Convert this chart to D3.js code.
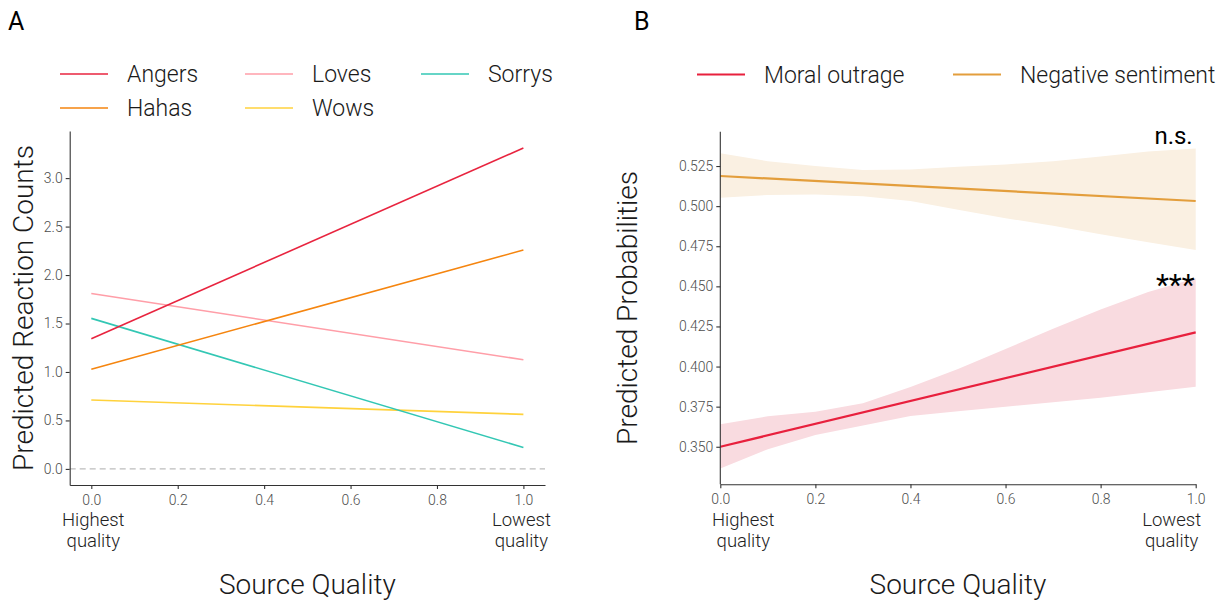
<!DOCTYPE html>
<html>
<head>
<meta charset="utf-8">
<script src="https://cdn.jsdelivr.net/npm/d3@7"></script>
<style>
  html, body { margin: 0; padding: 0; background: #fff; }
  svg { display: block; font-family: "Roboto Light", Roboto, "Noto Sans", sans-serif; font-weight: 300; }
</style>
</head>
<body>
<svg id="chart" width="1229" height="603"></svg>
<script>
// ---------- Data: panel A ----------
const reactionNames = ["Angers", "Hahas", "Loves", "Wows", "Sorrys"];
const reactionX = [0, 1];
const angersVals = [1.343, 3.31];
const hahasVals = [1.029, 2.258];
const lovesVals = [1.809, 1.126];
const wowsVals = [0.711, 0.563];
const sorrysVals = [1.553, 0.221];
const countTicks = [0, 0.5, 1.0, 1.5, 2.0, 2.5, 3.0];
const qualityTicks = [0, 0.2, 0.4, 0.6, 0.8, 1.0];

// ---------- Data: panel B ----------
const probNames = ["Moral outrage", "Negative sentiment"];
const bandX = [0, 0.1, 0.2, 0.3, 0.4, 0.5, 0.6, 0.7, 0.8, 0.9, 1.0];
const outrageLine = [0.350, 0.4213];
const outrageUpper = [0.3641, 0.369, 0.3718, 0.3772, 0.3872, 0.3985, 0.411, 0.4235, 0.4355, 0.4465, 0.455];
const outrageLower = [0.3365, 0.3485, 0.3573, 0.3633, 0.3692, 0.3722, 0.375, 0.3777, 0.3805, 0.384, 0.3874];
const negativeLine = [0.5188, 0.5032];
const negativeUpper = [0.533, 0.528, 0.525, 0.5225, 0.5228, 0.5245, 0.526, 0.528, 0.531, 0.534, 0.536];
const negativeLower = [0.5052, 0.507, 0.5073, 0.5062, 0.5032, 0.4978, 0.4925, 0.4878, 0.4825, 0.4775, 0.4726];
const probTicks = [0.350, 0.375, 0.400, 0.425, 0.450, 0.475, 0.500, 0.525];
const sigLabels = ["n.s.", "***"];

// ---------- Styles ----------
const reactionColors = {
  Angers: "#E8243F", Hahas: "#F5850F", Loves: "#FF9EA8", Wows: "#FFD23C", Sorrys: "#33C7B4"
};
const reactionValues = { Angers: angersVals, Hahas: hahasVals, Loves: lovesVals, Wows: wowsVals, Sorrys: sorrysVals };
const outrageColor = "#E8203D", outrageFill = "#F9DBE0";
const negativeColor = "#E39E3C", negativeFill = "#FAF0E2";
const axisColor = "#333333", tickText = "#4D4D4D";
const FONT = "'Roboto Light', Roboto, sans-serif";

const svg = d3.select("#chart");

function styleAxis(g) {
  g.select(".domain").attr("stroke", axisColor).attr("stroke-width", 1.1);
  g.selectAll(".tick line").attr("stroke", axisColor).attr("stroke-width", 1.1);
  g.selectAll(".tick text").attr("fill", tickText).attr("font-size", 14)
    .attr("font-family", FONT).attr("font-weight", 300);
}

// ================= Panel A =================
const xA = d3.scaleLinear().domain([-0.05, 1.05]).range([69.7, 545]);
const yA = d3.scaleLinear().domain([-0.166, 3.486]).range([485, 131]);

svg.append("line")
  .attr("x1", xA.range()[0]).attr("x2", xA.range()[1])
  .attr("y1", yA(0)).attr("y2", yA(0))
  .attr("stroke", "#BDBDBD").attr("stroke-width", 1.2).attr("stroke-dasharray", "6,4");

const lineA = d3.line().x((d, i) => xA(reactionX[i])).y(d => yA(d));
["Wows", "Sorrys", "Loves", "Hahas", "Angers"].forEach(name => {
  svg.append("path").datum(reactionValues[name])
    .attr("d", lineA).attr("fill", "none")
    .attr("stroke", reactionColors[name]).attr("stroke-width", 1.6);
});

const axAx = svg.append("g").attr("transform", `translate(0,${485})`)
  .call(d3.axisBottom(xA).tickValues(qualityTicks).tickFormat(d3.format(".1f")).tickSize(4).tickPadding(6).tickSizeOuter(0));
styleAxis(axAx);
const axAy = svg.append("g").attr("transform", `translate(${69.7},0)`)
  .call(d3.axisLeft(yA).tickValues(countTicks).tickFormat(d3.format(".1f")).tickSize(4).tickPadding(3).tickSizeOuter(0));
styleAxis(axAy);

// quality end labels
function endLabels(xLow, xHigh) {
  const g = svg.append("g").attr("font-size", 18.5).attr("fill", "#222").attr("text-anchor", "middle");
  [["Highest", 526], ["quality", 547]].forEach(([t, y]) => g.append("text").attr("x", xLow).attr("y", y).text(t));
  [["Lowest", 526], ["quality", 547]].forEach(([t, y]) => g.append("text").attr("x", xHigh).attr("y", y).text(t));
}
endLabels(xA(0) + 2, xA(1) - 2);

svg.append("text").attr("x", (xA.range()[0] + xA.range()[1]) / 2).attr("y", 594)
  .attr("text-anchor", "middle").attr("font-size", 28).attr("fill", "#1a1a1a").text("Source Quality");
svg.append("text").attr("transform", `translate(33,${(131 + 485) / 2}) rotate(-90)`)
  .attr("text-anchor", "middle").attr("font-size", 28).attr("fill", "#1a1a1a").text("Predicted Reaction Counts");

// legend A
const legendA = [
  { name: "Angers", col: 0, row: 0 }, { name: "Hahas", col: 0, row: 1 },
  { name: "Loves", col: 1, row: 0 }, { name: "Wows", col: 1, row: 1 },
  { name: "Sorrys", col: 2, row: 0 }
];
const legColX = [60, 245, 421], legRowY = [74, 108];
legendA.forEach(d => {
  const x0 = legColX[d.col], y0 = legRowY[d.row];
  svg.append("line").attr("x1", x0).attr("x2", x0 + 48).attr("y1", y0).attr("y2", y0)
    .attr("stroke", reactionColors[d.name]).attr("stroke-width", 1.6);
  svg.append("text").attr("x", x0 + 67).attr("y", y0 + 8).attr("font-size", 23).attr("fill", "#1a1a1a").text(d.name);
});

svg.append("text").attr("x", 8).attr("y", 30).attr("font-size", 25).attr("font-family", "Roboto, sans-serif").attr("font-weight", 400).attr("fill", "#000").text("A");

// ================= Panel B =================
const xB = d3.scaleLinear().domain([0, 1]).range([720.3, 1195.7]);
const yB = d3.scaleLinear().domain([0.3266, 0.5464]).range([484.3, 131.7]);

const area = (lo, hi) => d3.area().x((d, i) => xB(bandX[i])).y0((d, i) => yB(lo[i])).y1((d, i) => yB(hi[i]));
svg.append("path").datum(bandX).attr("d", area(negativeLower, negativeUpper)).attr("fill", negativeFill);
svg.append("path").datum(bandX).attr("d", area(outrageLower, outrageUpper)).attr("fill", outrageFill);

const lineB = d3.line().x((d, i) => xB(reactionX[i])).y(d => yB(d));
svg.append("path").datum(negativeLine).attr("d", lineB).attr("fill", "none").attr("stroke", negativeColor).attr("stroke-width", 2.2);
svg.append("path").datum(outrageLine).attr("d", lineB).attr("fill", "none").attr("stroke", outrageColor).attr("stroke-width", 2.2);

const axBx = svg.append("g").attr("transform", `translate(0,${484.3})`)
  .call(d3.axisBottom(xB).tickValues(qualityTicks).tickFormat(d3.format(".1f")).tickSize(4).tickPadding(6).tickSizeOuter(0));
styleAxis(axBx);
const axBy = svg.append("g").attr("transform", `translate(${720.3},0)`)
  .call(d3.axisLeft(yB).tickValues(probTicks).tickFormat(d3.format(".3f")).tickSize(4).tickPadding(3).tickSizeOuter(0));
styleAxis(axBy);
axBy.select(".domain").attr("d", `M0,${131.7}V${484.3}`);

endLabels(xB(0) + 23, xB(1) - 24);

svg.append("text").attr("x", (xB.range()[0] + xB.range()[1]) / 2).attr("y", 594)
  .attr("text-anchor", "middle").attr("font-size", 28).attr("fill", "#1a1a1a").text("Source Quality");
svg.append("text").attr("transform", `translate(637,${(131.7 + 484.3) / 2}) rotate(-90)`)
  .attr("text-anchor", "middle").attr("font-size", 28).attr("fill", "#1a1a1a").text("Predicted Probabilities");

// significance labels
svg.append("text").attr("x", xB(1) - 3).attr("y", yB(negativeUpper[negativeUpper.length - 1]) - 4)
  .attr("text-anchor", "end").attr("font-size", 24).attr("font-family", "Roboto, sans-serif").attr("font-weight", 400).attr("fill", "#000").text(sigLabels[0]);
svg.append("text").attr("x", xB(1) - 1).attr("y", yB(outrageUpper[outrageUpper.length - 1]) + 17)
  .attr("text-anchor", "end").attr("font-size", 30).attr("font-family", "Roboto, sans-serif").attr("font-weight", 400).attr("fill", "#000").text(sigLabels[1]);

// legend B
const legendB = [
  { name: probNames[0], color: outrageColor, x: 697 },
  { name: probNames[1], color: negativeColor, x: 953 }
];
legendB.forEach(d => {
  svg.append("line").attr("x1", d.x).attr("x2", d.x + 48).attr("y1", 74.5).attr("y2", 74.5)
    .attr("stroke", d.color).attr("stroke-width", 2.2);
  svg.append("text").attr("x", d.x + 67).attr("y", 82.5).attr("font-size", 23).attr("fill", "#1a1a1a").text(d.name);
});

svg.append("text").attr("x", 634).attr("y", 30).attr("font-size", 25).attr("font-family", "Roboto, sans-serif").attr("font-weight", 400).attr("fill", "#000").text("B");
</script>
</body>
</html>
